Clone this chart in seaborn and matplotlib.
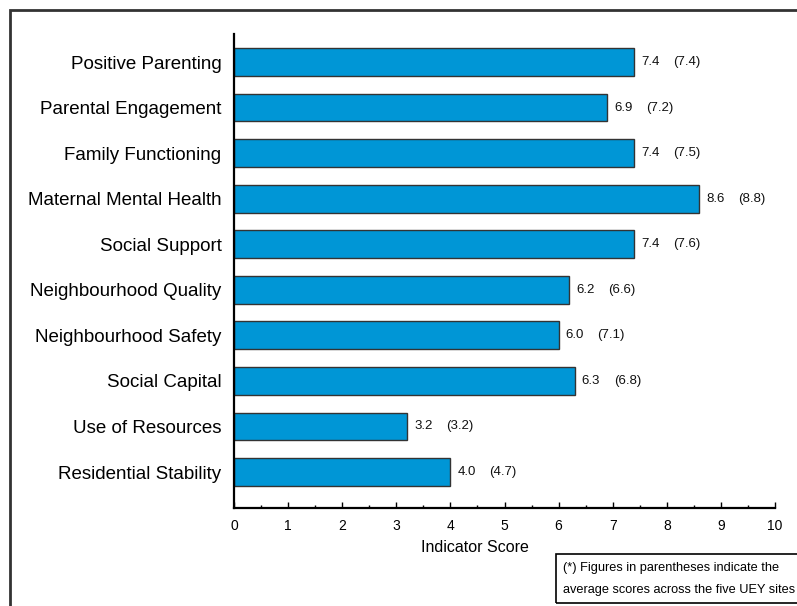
import matplotlib
matplotlib.use("Agg")
import matplotlib.pyplot as plt
from matplotlib.patches import Rectangle
from matplotlib.ticker import MultipleLocator
import seaborn as sns
import pandas as pd

categories = [
    "Positive Parenting",
    "Parental Engagement",
    "Family Functioning",
    "Maternal Mental Health",
    "Social Support",
    "Neighbourhood Quality",
    "Neighbourhood Safety",
    "Social Capital",
    "Use of Resources",
    "Residential Stability",
]
scores = [7.4, 6.9, 7.4, 8.6, 7.4, 6.2, 6.0, 6.3, 3.2, 4.0]
averages = [7.4, 7.2, 7.5, 8.8, 7.6, 6.6, 7.1, 6.8, 3.2, 4.7]
x_ticks = list(range(0, 11))

sns.set_theme(style="white")
plt.rcParams["font.family"] = ["Liberation Sans", "DejaVu Sans"]

df = pd.DataFrame({"Indicator": categories, "Score": scores})

fig = plt.figure(figsize=(7.97, 6.06), dpi=100)
ax = fig.add_axes([234 / 797, 1 - 508 / 606, (775 - 234) / 797, (508 - 34) / 606])

sns.barplot(data=df, x="Score", y="Indicator", orient="h", color="#0096d6",
            saturation=1, width=0.61, edgecolor="#333333", linewidth=1.0, ax=ax)

for i, (s, a) in enumerate(zip(scores, averages)):
    ax.annotate(f"{s:.1f}", xy=(s, i), xytext=(7, 0), textcoords="offset pixels",
                ha="left", va="center", fontsize=9.5, color="#111111")
    ax.annotate(f"({a:.1f})", xy=(s, i), xytext=(39, 0), textcoords="offset pixels",
                ha="left", va="center", fontsize=9.5, color="#111111")

ax.set_xlim(0, 10)
ax.set_ylim(9.79, -0.615)
ax.set_xticks(x_ticks)
ax.set_xticklabels([str(t) for t in x_ticks], fontsize=10)
ax.xaxis.set_minor_locator(MultipleLocator(0.5))
ax.tick_params(axis="x", which="major", direction="in", length=4.5, width=1.0,
               color="black", bottom=True, pad=8)
ax.tick_params(axis="x", which="minor", direction="in", length=2.2, width=1.0,
               color="black", bottom=True)
ax.tick_params(axis="y", length=0, pad=9, labelsize=13.5)
for lab in ax.get_yticklabels():
    lab.set_color("black")
for lab in ax.get_xticklabels():
    lab.set_color("black")

ax.set_xlabel("Indicator Score", fontsize=11.5, color="black")
ax.xaxis.set_label_coords(0.445, -0.068)
ax.set_ylabel("")

for side in ["top", "right"]:
    ax.spines[side].set_visible(False)
for side in ["left", "bottom"]:
    ax.spines[side].set_visible(True)
    ax.spines[side].set_color("black")
    ax.spines[side].set_linewidth(1.6)

# outer frame around the whole figure
fig.patches.append(Rectangle((10 / 797, -0.1), 1.2, 1 - 10 / 606 + 0.1,
                             transform=fig.transFigure, fill=False,
                             edgecolor="#333333", linewidth=2.0))

# footnote box
fig.patches.append(Rectangle((556 / 797, 1 - 603 / 606), 0.5, (603 - 554) / 606,
                             transform=fig.transFigure, fill=False,
                             edgecolor="black", linewidth=1.2))
fig.text(563 / 797, 1 - 568 / 606, "(*) Figures in parentheses indicate the",
         fontsize=9.2, va="center", ha="left", color="black")
fig.text(563 / 797, 1 - 590 / 606, "average scores across the five UEY sites",
         fontsize=9.2, va="center", ha="left", color="black")

fig.savefig("out.png", dpi=100)
